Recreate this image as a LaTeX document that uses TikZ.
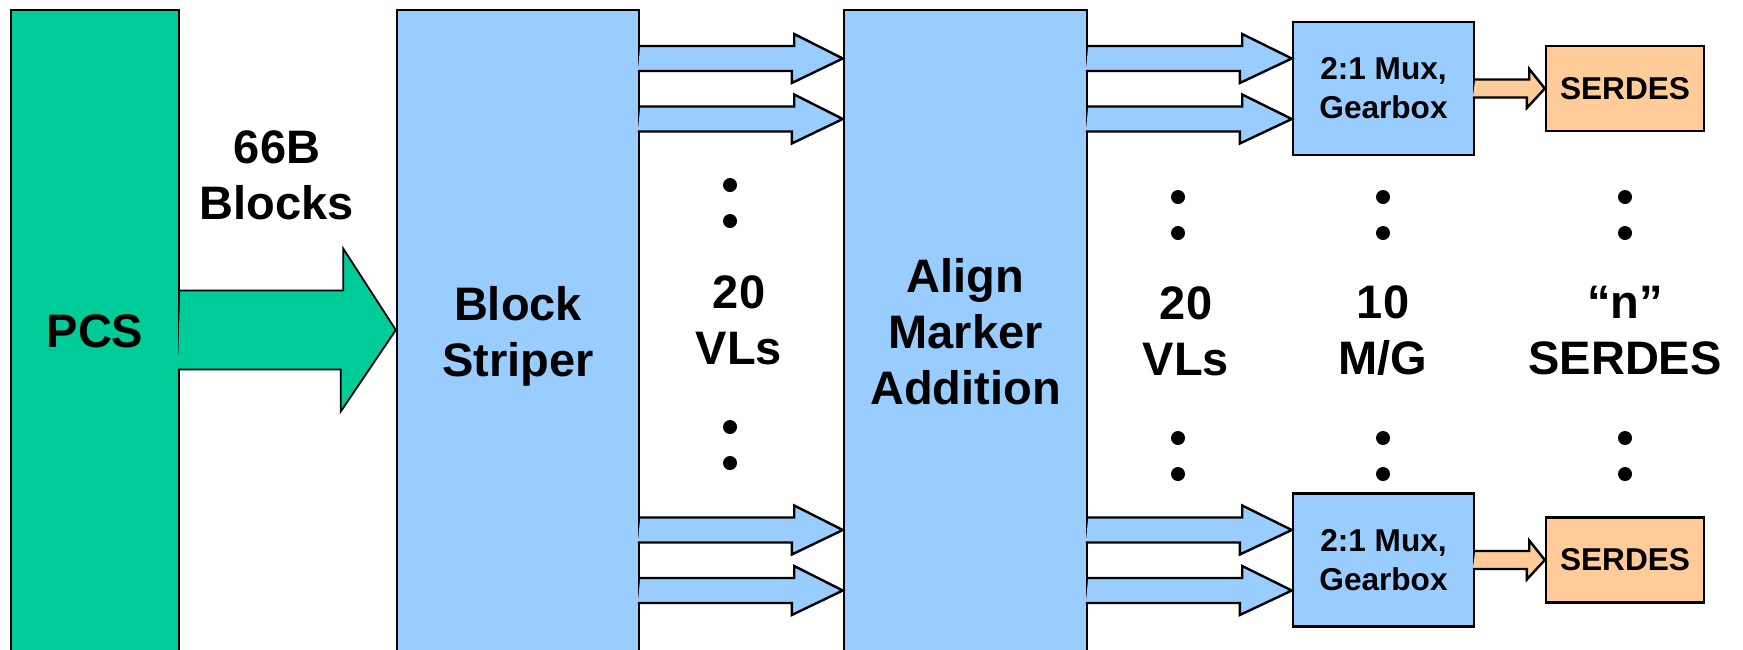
\documentclass[tikz,border=0pt]{standalone}
\usepackage{fontspec}
\setmainfont{Liberation Sans}

\definecolor{pcsgreen}{HTML}{00CC99}
\definecolor{laneblue}{HTML}{99CCFF}
\definecolor{serdesorange}{HTML}{FFCC99}

\tikzset{
  big/.style={font=\bfseries\fontsize{23.5}{28}\selectfont, align=center},
  small/.style={font=\bfseries\fontsize{15.8}{19.5}\selectfont, align=center},
  tallbox/.style={draw, line width=1.2pt, big, inner sep=0pt, minimum width=#1},
  muxbox/.style={draw, line width=1.2pt, small, fill=laneblue, inner sep=0pt,
    minimum width=90.5pt, minimum height=66.5pt},
  serdesbox/.style={draw, line width=1.2pt, small, fill=serdesorange, inner sep=0pt,
    minimum width=79pt, minimum height=42.5pt},
  blockarrow/.style={draw, line width=0.9pt, fill=pcsgreen},
  lanearrow/.style={draw, line width=1.2pt, fill=laneblue},
  serarrow/.style={draw, line width=1.2pt, fill=serdesorange}
}

\begin{document}
\begin{tikzpicture}[x=0.5pt, y=-0.5pt]
\useasboundingbox (0,0) rectangle (1743,649);
\clip (0,0) rectangle (1743,649);

% blocks
\node[tallbox=84pt, fill=pcsgreen, minimum height=321pt] (pcs) at (95,331) {PCS};
\node[tallbox=121pt, fill=laneblue, minimum height=326pt] (striper) at (518,336) {Block\\Striper};
\node[tallbox=121.5pt, fill=laneblue, minimum height=321.5pt] (align) at (965.5,331.5) {Align\\Marker\\Addition};
\node[muxbox] (mux1) at (1383.5,88.5) {2:1 Mux,\\Gearbox};
\node[muxbox] (mux2) at (1383.5,560) {2:1 Mux,\\Gearbox};
\node[serdesbox] (serdes1) at (1625,88.5) {SERDES};
\node[serdesbox] (serdes2) at (1625,560) {SERDES};

% labels
\node[big] (blocks) at (277,175) {66B\\Blocks};
\node[big] (vlin) at (739,320) {20\\VLs};
\node[big] (vlout) at (1186,331) {20\\VLs};
\node[big] (mgcount) at (1383,331) {10\\M/G};
\node[big] (serdescount) at (1625,331) {“n”\\SERDES};

% PCS -> striper
\draw[blockarrow] (pcs.east |- 0,330) ++(0,-39.5) -- ++(163,0) -- ++(0,-42)
  -- (striper.west |- 0,330) -- ++(-55,81.5) -- ++(0,-42) -- ++(-163,0);

% virtual lanes
\foreach \ly/\dst in {58.5/mux1, 119/mux1, 530/mux2, 590.5/mux2} {
  \draw[lanearrow] (striper.east |- 0,\ly) ++(0,-12.5) -- ++(154,0) -- ++(0,-12)
    -- (align.west |- 0,\ly) -- ++(-51,24.5) -- ++(0,-12) -- ++(-154,0);
  \draw[lanearrow] (align.east |- 0,\ly) ++(0,-12.5) -- ++(154,0) -- ++(0,-12)
    -- (\dst.west |- 0,\ly) -- ++(-52,24.5) -- ++(0,-12) -- ++(-154,0);
}

% mux -> serdes
\foreach \m/\s in {mux1/serdes1, mux2/serdes2} {
  \draw[serarrow] (\m.east) ++(0,-9) -- ++(54,0) -- ++(0,-10.5)
    -- (\s.west) -- ++(-18,19.5) -- ++(0,-10.5) -- ++(-54,0);
}

% dots
\foreach \dy in {185,221,427,463} \fill (730,\dy) circle[radius=3.5pt];
\foreach \dx in {1178,1383,1625}
  \foreach \dy in {197,233,438,474} \fill (\dx,\dy) circle[radius=3.5pt];
\end{tikzpicture}
\end{document}
